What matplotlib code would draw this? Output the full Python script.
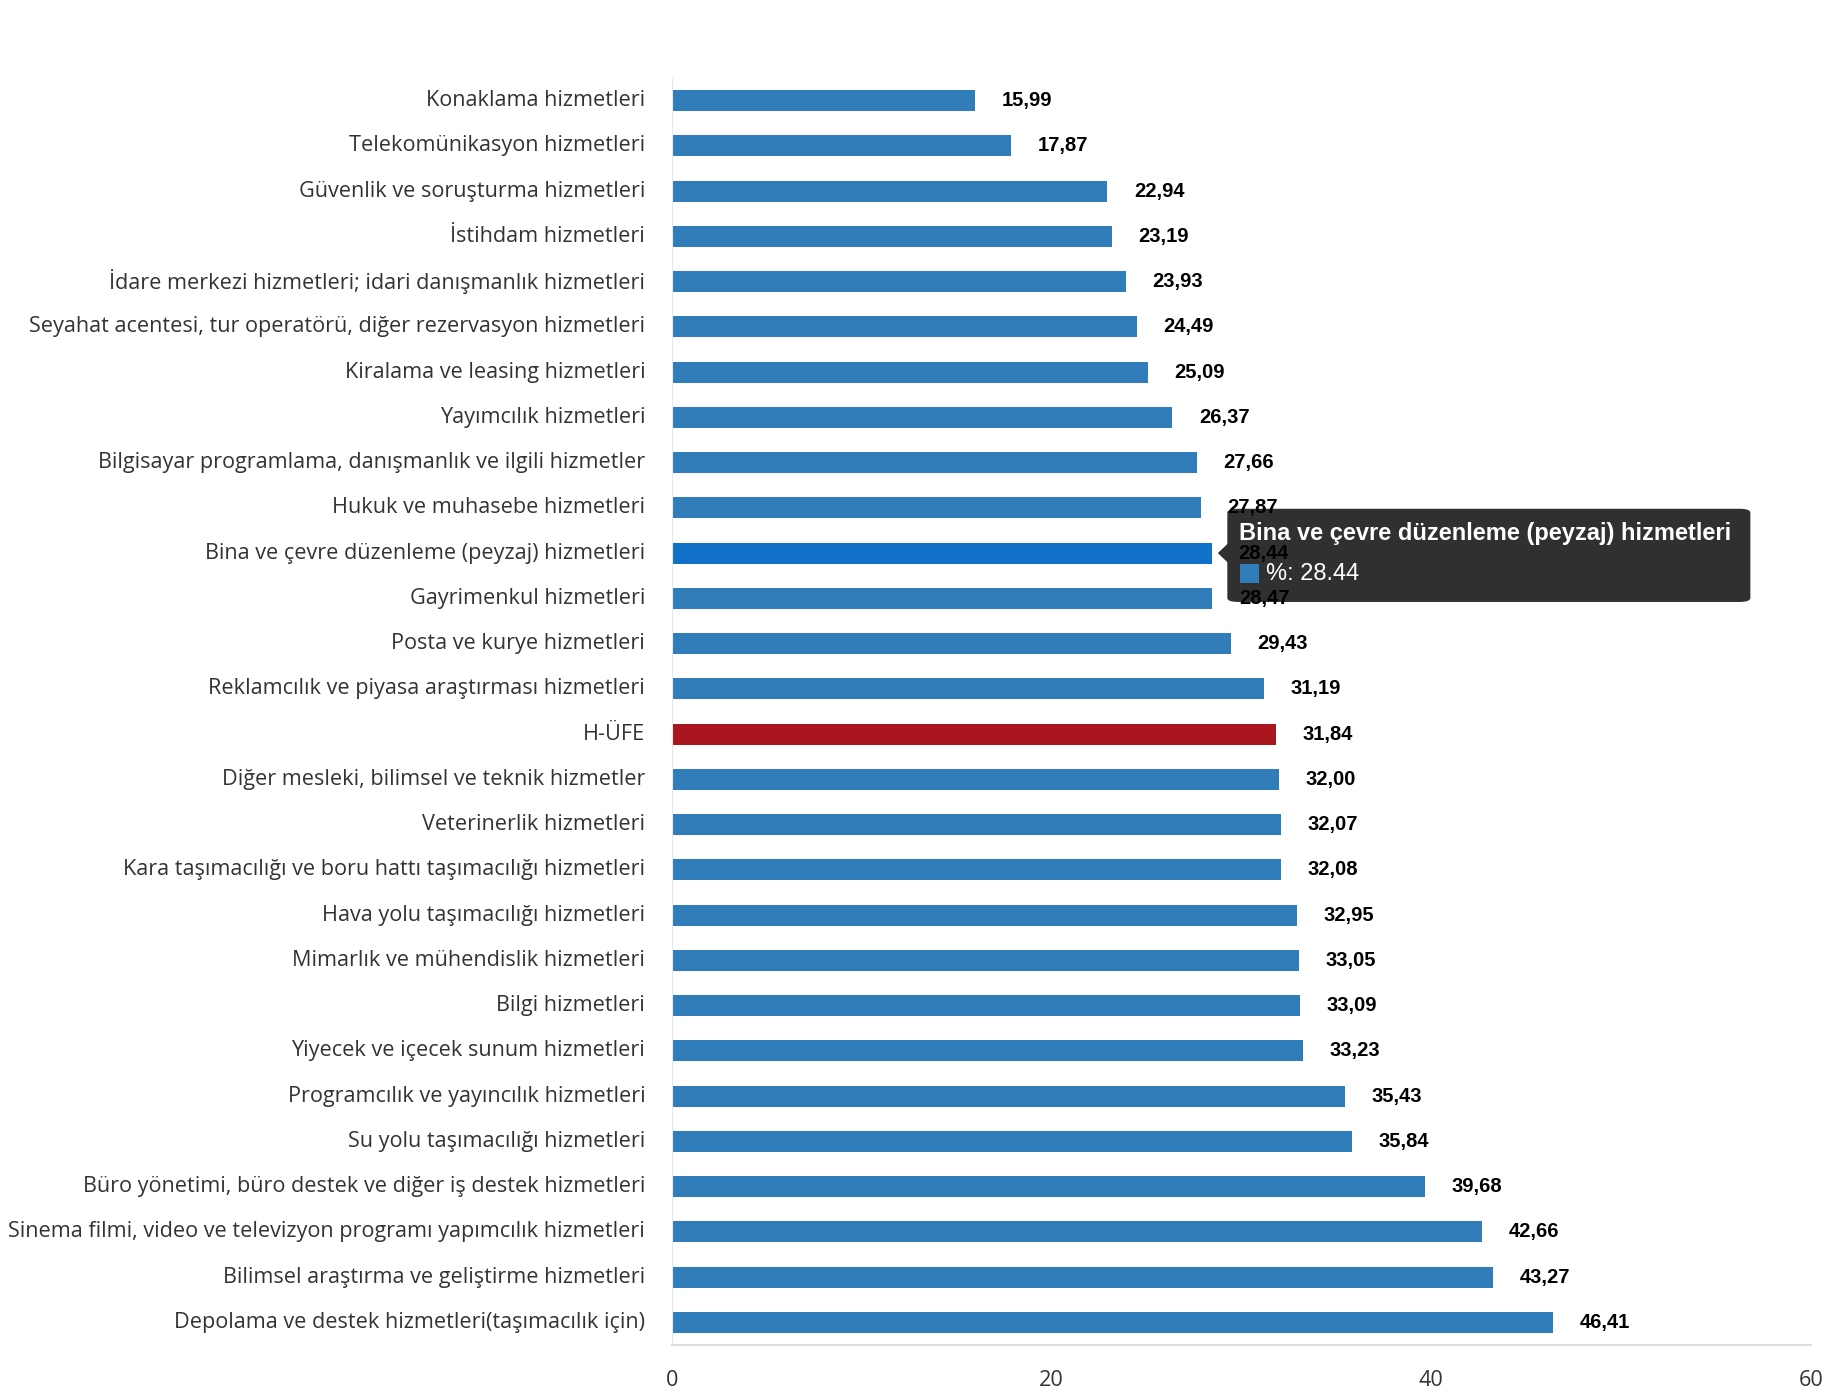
import numpy as np
import matplotlib.pyplot as plt
from matplotlib.patches import FancyBboxPatch, Polygon, Rectangle

categories = [
    "Konaklama hizmetleri",
    "Telekomünikasyon hizmetleri",
    "Güvenlik ve soruşturma hizmetleri",
    "İstihdam hizmetleri",
    "İdare merkezi hizmetleri; idari danışmanlık hizmetleri",
    "Seyahat acentesi, tur operatörü, diğer rezervasyon hizmetleri",
    "Kiralama ve leasing hizmetleri",
    "Yayımcılık hizmetleri",
    "Bilgisayar programlama, danışmanlık ve ilgili hizmetler",
    "Hukuk ve muhasebe hizmetleri",
    "Bina ve çevre düzenleme (peyzaj) hizmetleri",
    "Gayrimenkul hizmetleri",
    "Posta ve kurye hizmetleri",
    "Reklamcılık ve piyasa araştırması hizmetleri",
    "H-ÜFE",
    "Diğer mesleki, bilimsel ve teknik hizmetler",
    "Veterinerlik hizmetleri",
    "Kara taşımacılığı ve boru hattı taşımacılığı hizmetleri",
    "Hava yolu taşımacılığı hizmetleri",
    "Mimarlık ve mühendislik hizmetleri",
    "Bilgi hizmetleri",
    "Yiyecek ve içecek sunum hizmetleri",
    "Programcılık ve yayıncılık hizmetleri",
    "Su yolu taşımacılığı hizmetleri",
    "Büro yönetimi, büro destek ve diğer iş destek hizmetleri",
    "Sinema filmi, video ve televizyon programı yapımcılık hizmetleri",
    "Bilimsel araştırma ve geliştirme hizmetleri",
    "Depolama ve destek hizmetleri(taşımacılık için)",
]
values = [15.99, 17.87, 22.94, 23.19, 23.93, 24.49, 25.09, 26.37, 27.66, 27.87,
          28.44, 28.47, 29.43, 31.19, 31.84, 32.00, 32.07, 32.08, 32.95, 33.05,
          33.09, 33.23, 35.43, 35.84, 39.68, 42.66, 43.27, 46.41]
xticks = [0, 20, 40, 60]

highlight = "Bina ve çevre düzenleme (peyzaj) hizmetleri"
total = "H-ÜFE"

colors = []
for c in categories:
    if c == total:
        colors.append("#aa1620")
    elif c == highlight:
        colors.append("#1170c8")
    else:
        colors.append("#307dba")

fig = plt.figure(figsize=(18.3, 14), dpi=100)
ax = fig.add_axes([0.367, 0.0393, 0.6227, 0.905])

y = np.arange(len(categories))
ax.barh(y, values, height=0.46, color=colors, edgecolor="none")
ax.set_ylim(len(categories) - 0.5, -0.5)
ax.set_xlim(0, 60)

# value labels sit above the tooltip, as in the source chart
for yi, v in zip(y, values):
    ax.text(v + 1.4, yi, f"{v:.2f}".replace(".", ","), va="center", ha="left",
            fontsize=14.5, fontweight="bold", family="Liberation Sans",
            color="#000000", zorder=7)

ax.set_yticks(y)
ax.set_yticklabels(categories, fontsize=15.6, family="Open Sans", color="#333333")
ax.set_xticks(xticks)
ax.set_xticklabels([str(t) for t in xticks], fontsize=15.6, family="Open Sans", color="#333333")
ax.tick_params(axis="y", length=0, pad=19)
ax.tick_params(axis="x", length=0, pad=18)
for lbl in ax.get_yticklabels():
    lbl.set_va("center")

for s in ["top", "right"]:
    ax.spines[s].set_visible(False)
ax.spines["left"].set_color("#e3e8ef")
ax.spines["bottom"].set_color("#dddddd")
ax.spines["bottom"].set_linewidth(1.5)

# tooltip
idx = categories.index(highlight)
hv = values[idx]
x0, x1 = 29.26, 56.8
y0, y1 = idx - 0.98, idx + 1.08
tip_col = "#303030"
box = FancyBboxPatch((x0, y0), x1 - x0, y1 - y0,
                     boxstyle="round,pad=0,rounding_size=0.6",
                     mutation_aspect=1 / 7, facecolor=tip_col,
                     edgecolor="none", zorder=5, clip_on=False)
ax.add_patch(box)
ax.add_patch(Polygon([[x0 + 0.05, idx - 0.22], [x0 - 0.5, idx], [x0 + 0.05, idx + 0.22]],
                     closed=True, facecolor=tip_col,
                     edgecolor="none", zorder=5, clip_on=False))
ax.text(x0 + 0.62, idx - 0.44, highlight, color="white", fontsize=17,
        fontweight="bold", family="Liberation Sans", va="center", ha="left", zorder=6)
ax.add_patch(Rectangle((x0 + 0.68, idx + 0.25), 1.0, 0.42, facecolor="#307dba",
                       edgecolor="none", zorder=6))
ax.text(x0 + 2.05, idx + 0.46, f"%: {hv}", color="white", fontsize=17,
        family="Liberation Sans", va="center", ha="left", zorder=6)

fig.savefig("out.png", dpi=100, facecolor="white")
